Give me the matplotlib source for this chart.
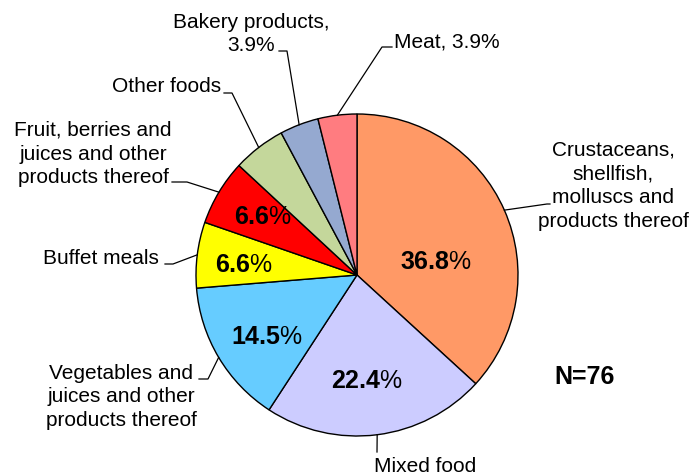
import numpy as np
import matplotlib
matplotlib.use("Agg")
import matplotlib.pyplot as plt

plt.rcParams["font.family"] = ["Liberation Sans", "DejaVu Sans"]
plt.rcParams["mathtext.fontset"] = "custom"
plt.rcParams["mathtext.rm"] = "Liberation Sans"
plt.rcParams["mathtext.bf"] = "Liberation Sans:bold"

W, H = 692, 477

categories = [
    "Crustaceans,\nshellfish,\nmolluscs and\nproducts thereof",
    "Mixed food",
    "Vegetables and\njuices and other\nproducts thereof",
    "Buffet meals",
    "Fruit, berries and\njuices and other\nproducts thereof",
    "Other foods",
    "Bakery products,\n3.9%",
    "Meat, 3.9%",
]
values = [36.8, 22.4, 14.5, 6.6, 6.6, 5.3, 3.9, 3.9]
colors = ["#FF9966", "#CCCCFF", "#66CCFF", "#FFFF00", "#FF0000",
          "#C4D79B", "#95A9D0", "#FF7C80"]
# which slices carry a bold value inside the pie
show_pct = [True, True, True, True, True, False, False, False]
n_total = 76

# layout (pixel coords, y from top)
CENTER = (357, 276)
RADIUS = 161
pct_pos = [(436, 262), (367, 381), (267, 337), (244, 265), (263, 217)]
# leader elbow, leader end, text anchor, text alignment
leaders = [
    ((547, 205), (550, 205), (613, 186), "center"),
    ((377, 453), (377, 453), (425, 467), "center"),
    ((208, 380), (199, 380), (121, 397), "center"),
    ((173, 265), (165, 265), (159, 258), "right"),
    ((187, 183), (172, 183), (93, 154), "center"),
    ((232, 94), (224, 94), (221, 86), "right"),
    ((287, 52), (279, 52), (251, 34), "center"),
    ((382, 48), (392, 48), (394, 42), "left"),
]


def px(x, y):
    return x, H - y


fig = plt.figure(figsize=(W / 100, H / 100), dpi=100)
ax = fig.add_axes([0, 0, 1, 1])

wedges, _ = ax.pie(values, colors=colors, startangle=90, counterclock=False,
                   center=px(*CENTER), radius=RADIUS, frame=True,
                   wedgeprops=dict(edgecolor="black", linewidth=1.0))
ax.set_xlim(0, W)
ax.set_ylim(0, H)
ax.set_aspect("equal")
ax.axis("off")

for w, val, on, pos in zip(wedges, values, show_pct, pct_pos + [None] * 3):
    if not on:
        continue
    ax.text(*px(*pos), r"$\mathbf{%.1f}$%%" % val, fontsize=18,
            ha="center", va="center")

cx, cy = px(*CENTER)
for w, label, (elbow, end, tpos, ha) in zip(wedges, categories, leaders):
    mid = np.deg2rad((w.theta1 + w.theta2) / 2)
    sx, sy = cx + RADIUS * np.cos(mid), cy + RADIUS * np.sin(mid)
    ex, ey = px(*elbow)
    fx, fy = px(*end)
    ax.plot([sx, ex, fx], [sy, ey, fy], color="black", lw=0.9)
    ax.text(*px(*tpos), label, fontsize=15, ha=ha, va="center",
            multialignment="center", linespacing=1.33)

ax.text(*px(585, 377), f"N={n_total}", fontsize=18, fontweight="bold",
        ha="center", va="center")

fig.savefig("out.png", dpi=100)
